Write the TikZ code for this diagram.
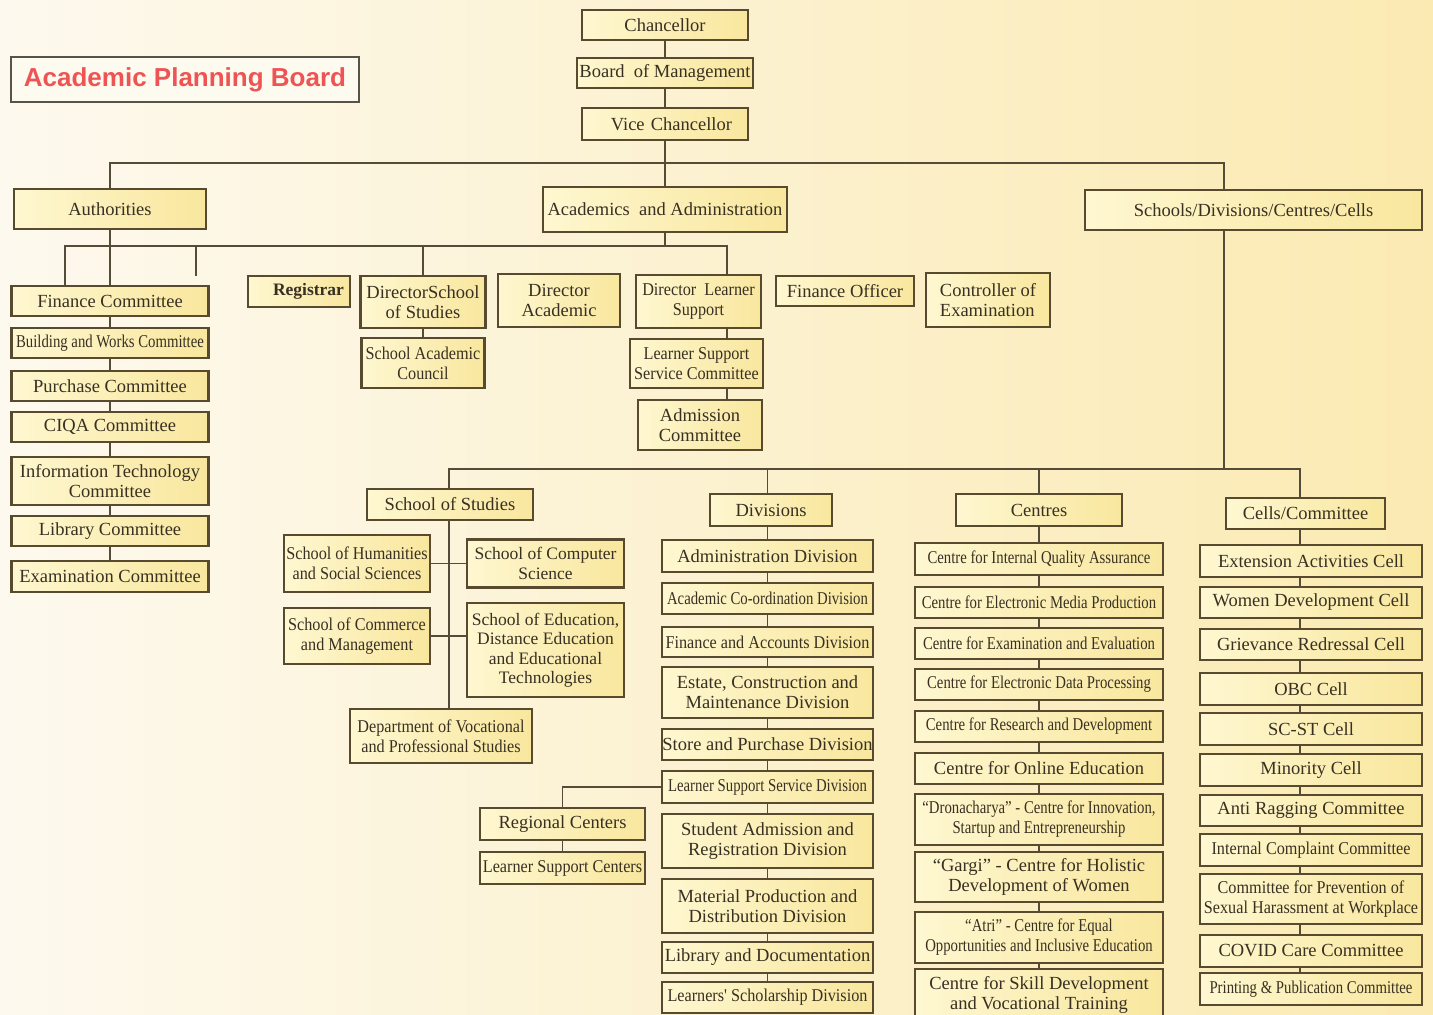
\documentclass[tikz,border=0pt]{standalone}
\usepackage{fontspec}
\setmainfont{Liberation Serif}
\newfontfamily\condfont[FakeStretch=0.82]{Liberation Serif}
\newfontfamily\semifont[FakeStretch=0.9]{Liberation Serif}
\newfontfamily\titlefont{Liberation Sans}
\definecolor{bgl}{RGB}{253,249,238}
\definecolor{bgm}{RGB}{252,242,212}
\definecolor{bgr}{RGB}{251,234,178}
\definecolor{boxl}{RGB}{254,247,208}
\definecolor{boxr}{RGB}{249,231,158}
\definecolor{boxline}{RGB}{88,74,46}
\definecolor{linec}{RGB}{84,76,56}
\definecolor{txt}{RGB}{56,48,34}
\definecolor{apbred}{RGB}{238,84,84}
\definecolor{apbline}{RGB}{88,82,74}
\definecolor{apbfill}{RGB}{253,250,240}
\begin{document}
\begin{tikzpicture}[x=1pt,y=-1pt,
    box/.style={draw=boxline, line width=2.6pt, left color=boxl, right color=boxr,
      text=txt, align=center, inner sep=1pt, font=\fontsize{18.5}{20}\selectfont},
    wh/.style 2 args={minimum width=#1pt, minimum height=#2pt},
    rom/.style={},
    cond/.style={font=\condfont\fontsize{18}{20}\selectfont},
    semi/.style={font=\semifont\fontsize{18}{20}\selectfont},
    titlebox/.style={draw=apbline, line width=2.6pt, fill=apbfill, text=apbred,
      font=\titlefont\bfseries\fontsize{26}{28}\selectfont},
    link/.style={draw=linec, line width=1.6pt}]

  \useasboundingbox (0,0) rectangle (1433,1015);
  \shade[left color=bgl, middle color=bgm, right color=bgr] (0,0) rectangle (1433,1015);

  % top of the chart
  \node[titlebox, wh={348}{45}] (apb) at (185,79.5) {Academic Planning Board};
  \node[box, wh={166}{30}] (chan) at (665,25) {Chancellor};
  \node[box, wh={176}{30}] (bom) at (665,73) {Board\ \ of Management};
  \node[box, wh={166}{32}, align=right, text width=134pt] (vc) at (665,124) {Vice Chancellor};

  \node[box, wh={192}{40}] (auth) at (110,209) {Authorities};
  \node[box, wh={244}{45}] (aa) at (665,209.5) {Academics\ \ and Administration};
  \node[box, wh={337}{40}] (sdcc) at (1253.5,210) {Schools/Divisions/Centres/Cells};

  % authorities
  \foreach \nm/\yy/\hh/\st/\lbl in {
      fc/301/30/rom/Finance Committee,
      bwc/343/30/cond/Building and Works Committee,
      pc/386/30/rom/Purchase Committee,
      ciqa/427/30/rom/CIQA Committee,
      itc/481/48/rom/Information Technology\\Committee,
      lc/531/30/rom/Library Committee,
      ec/576.5/31/rom/Examination Committee}
  {
    \node[box, \st, wh={197}{\hh}] (\nm) at (110,\yy) {\lbl};
  }

  % officers under academics and administration
  \node[box, wh={102}{31}, align=right, text width=90pt,
    font=\bfseries\fontsize{17.5}{20}\selectfont] (reg) at (299,291.5) {Registrar};
  \node[box, wh={125}{52}] (dss) at (423,302) {DirectorSchool\\of Studies};
  \node[box, semi, wh={123}{50}] (sac) at (423,363) {School Academic\\Council};
  \node[box, wh={122}{53}] (dac) at (559,300.5) {Director\\Academic};
  \node[box, semi, wh={125}{53}] (dls) at (698.5,301.5) {Director\ \ Learner\\Support};
  \node[box, semi, wh={133}{49}] (lssc) at (696.5,363.5) {Learner Support\\Service Committee};
  \node[box, wh={124}{50}] (adm) at (700,425) {Admission\\Committee};
  \node[box, wh={138}{30}] (fo) at (845,291) {Finance Officer};
  \node[box, wh={124}{54}, align=left] (coe) at (988,300) {Controller of\\Examination};

  % school of studies
  \node[box, wh={166}{31}] (sos) at (450,504.5) {School of Studies};
  \node[box, semi, wh={146}{57}] (shss) at (357,563.5) {School of Humanities\\and Social Sciences};
  \node[box, wh={157}{48}, font=\fontsize{17.5}{20}\selectfont] (scs) at (545.5,563.5) {School of Computer\\Science};
  \node[box, semi, wh={146}{56}] (scm) at (357,636) {School of Commerce\\and Management};
  \node[box, wh={157}{94}, font=\fontsize{17.5}{19.5}\selectfont] (sed) at (545.5,650)
    {School of Education,\\Distance Education\\and Educational\\Technologies};
  \node[box, semi, wh={182}{54}] (dvps) at (441,736) {Department of Vocational\\and Professional Studies};
  \node[box, wh={165}{32}] (rc) at (562.5,824) {Regional Centers};
  \node[box, semi, wh={165}{32}] (lsc) at (562.5,868) {Learner Support Centers};

  % divisions
  \node[box, wh={122}{32}] (divs) at (771,510) {Divisions};
  \foreach \nm/\yy/\hh/\st/\lbl in {
      d1/556/32/rom/Administration Division,
      d2/598.5/31/cond/Academic Co-ordination Division,
      d3/642/30/semi/Finance and Accounts Division,
      d4/692.5/51/rom/{Estate, Construction and\\Maintenance Division},
      d5/744.5/31/rom/Store and Purchase Division,
      d6/787/32/cond/Learner Support Service Division,
      d7/841/54/rom/Student Admission and\\Registration Division,
      d8/906/54/rom/Material Production and\\Distribution Division,
      d9/957.5/31/rom/Library and Documentation,
      d10/997.5/31/semi/Learners' Scholarship Division}
  {
    \node[box, \st, wh={211}{\hh}, inner xsep=0pt] (\nm) at (767.5,\yy) {\lbl};
  }

  % centres
  \node[box, wh={166}{32}] (cen) at (1039,510) {Centres};
  \foreach \nm/\yy/\hh/\st/\lbl in {
      c1/559/32/cond/Centre for Internal Quality Assurance,
      c2/602.5/31/cond/Centre for Electronic Media Production,
      c3/643.5/31/cond/Centre for Examination and Evaluation,
      c4/684.5/31/cond/Centre for Electronic Data Processing,
      c5/726.5/31/cond/Centre for Research and Development,
      c6/768.5/31/rom/Centre for Online Education,
      c7/819.5/51/cond/{“Dronacharya” - Centre for Innovation,\\Startup and Entrepreneurship},
      c8/877/50/rom/“Gargi” - Centre for Holistic\\Development of Women,
      c9/937.5/51/cond/“Atri” - Centre for Equal\\Opportunities and Inclusive Education,
      c10/995/52/rom/Centre for Skill Development\\and Vocational Training}
  {
    \node[box, \st, wh={248}{\hh}] (\nm) at (1039,\yy) {\lbl};
  }

  % cells and committees
  \node[box, wh={159}{31}] (cel) at (1305.5,513.5) {Cells/Committee};
  \foreach \nm/\yy/\hh/\st/\lbl in {
      e1/561/32/rom/Extension Activities Cell,
      e2/602.5/31/rom/Women Development Cell,
      e3/644.5/31/rom/Grievance Redressal Cell,
      e4/689/32/rom/OBC Cell,
      e5/729/32/rom/SC-ST Cell,
      e6/770/32/rom/Minority Cell,
      e7/810.5/31/rom/Anti Ragging Committee,
      e8/850/32/semi/Internal Complaint Committee,
      e9/899/50/semi/Committee for Prevention of\\Sexual Harassment at Workplace,
      e10/951/32/rom/COVID Care Committee,
      e11/989/32/cond/Printing \& Publication Committee}
  {
    \node[box, \st, wh={222}{\hh}] (\nm) at (1311,\yy) {\lbl};
  }

  % connectors, upper part
  \coordinate (jl) at (110,163);
  \coordinate (jr) at (1224,163);
  \coordinate (ja) at (65,246);
  \coordinate (jb) at (727,246);
  \coordinate (jc) at (196,276);
  \draw[link] (chan) -- (bom);
  \draw[link] (bom) -- (vc);
  \draw[link] (vc) -- (aa);
  \draw[link] (auth.north) -- (jl) -- (jr) -- (jr |- sdcc.north);
  \draw[link, line width=2pt] (auth) -- (fc);
  \foreach \a/\b in {fc/bwc,bwc/pc,pc/ciqa,ciqa/itc,itc/lc,lc/ec}
    \draw[link, line width=2pt] (\a) -- (\b);
  \draw[link] (fc.north -| ja) -- (ja) -- (jb) -- (dls.north -| jb);
  \draw[link] (ja -| jc) -- (jc);
  \draw[link] (aa.south) -- (ja -| aa.south);
  \draw[link] (ja -| dss.north) -- (dss.north);
  \draw[link] (dss) -- (sac);
  \draw[link] (dls.south -| jb) -- (lssc.north -| jb);
  \draw[link] (lssc.south -| jb) -- (adm.north -| jb);

  % connectors, lower part
  \coordinate (kl) at (449,469);
  \coordinate (kr) at (1300,469);
  \draw[link] (sdcc.south -| jr) -- (kl -| jr);
  \draw[link] (sos.north -| kl) -- (kl) -- (kr) -- (cel.north -| kr);
  \draw[link] (sos.south -| kl) -- (dvps.north -| kl);
  \draw[link] (shss.east) -- (shss.east -| scs.west);
  \draw[link] (scm.east) -- (scm.east -| sed.west);
  \draw[link] (kl -| d1) -- (divs.north -| d1);
  \draw[link] (divs.south -| d1) -- (d1.north);
  \foreach \a/\b in {d1/d2,d2/d3,d3/d4,d4/d5,d5/d6,d6/d7,d7/d8,d8/d9,d9/d10}
    \draw[link] (\a) -- (\b);
  \draw[link] (d6.west) -| (rc.north);
  \draw[link] (rc) -- (lsc);
  \draw[link] (kl -| cen) -- (cen);
  \foreach \a/\b in {cen/c1,c1/c2,c2/c3,c3/c4,c4/c5,c5/c6,c6/c7,c7/c8,c8/c9,c9/c10}
    \draw[link] (\a) -- (\b);
  \draw[link] (cel.south -| kr) -- (e1.north -| kr);
  \foreach \a/\b in {e1/e2,e2/e3,e3/e4,e4/e5,e5/e6,e6/e7,e7/e8,e8/e9,e9/e10,e10/e11}
    \draw[link] (\a.south -| kr) -- (\b.north -| kr);

\end{tikzpicture}
\end{document}
